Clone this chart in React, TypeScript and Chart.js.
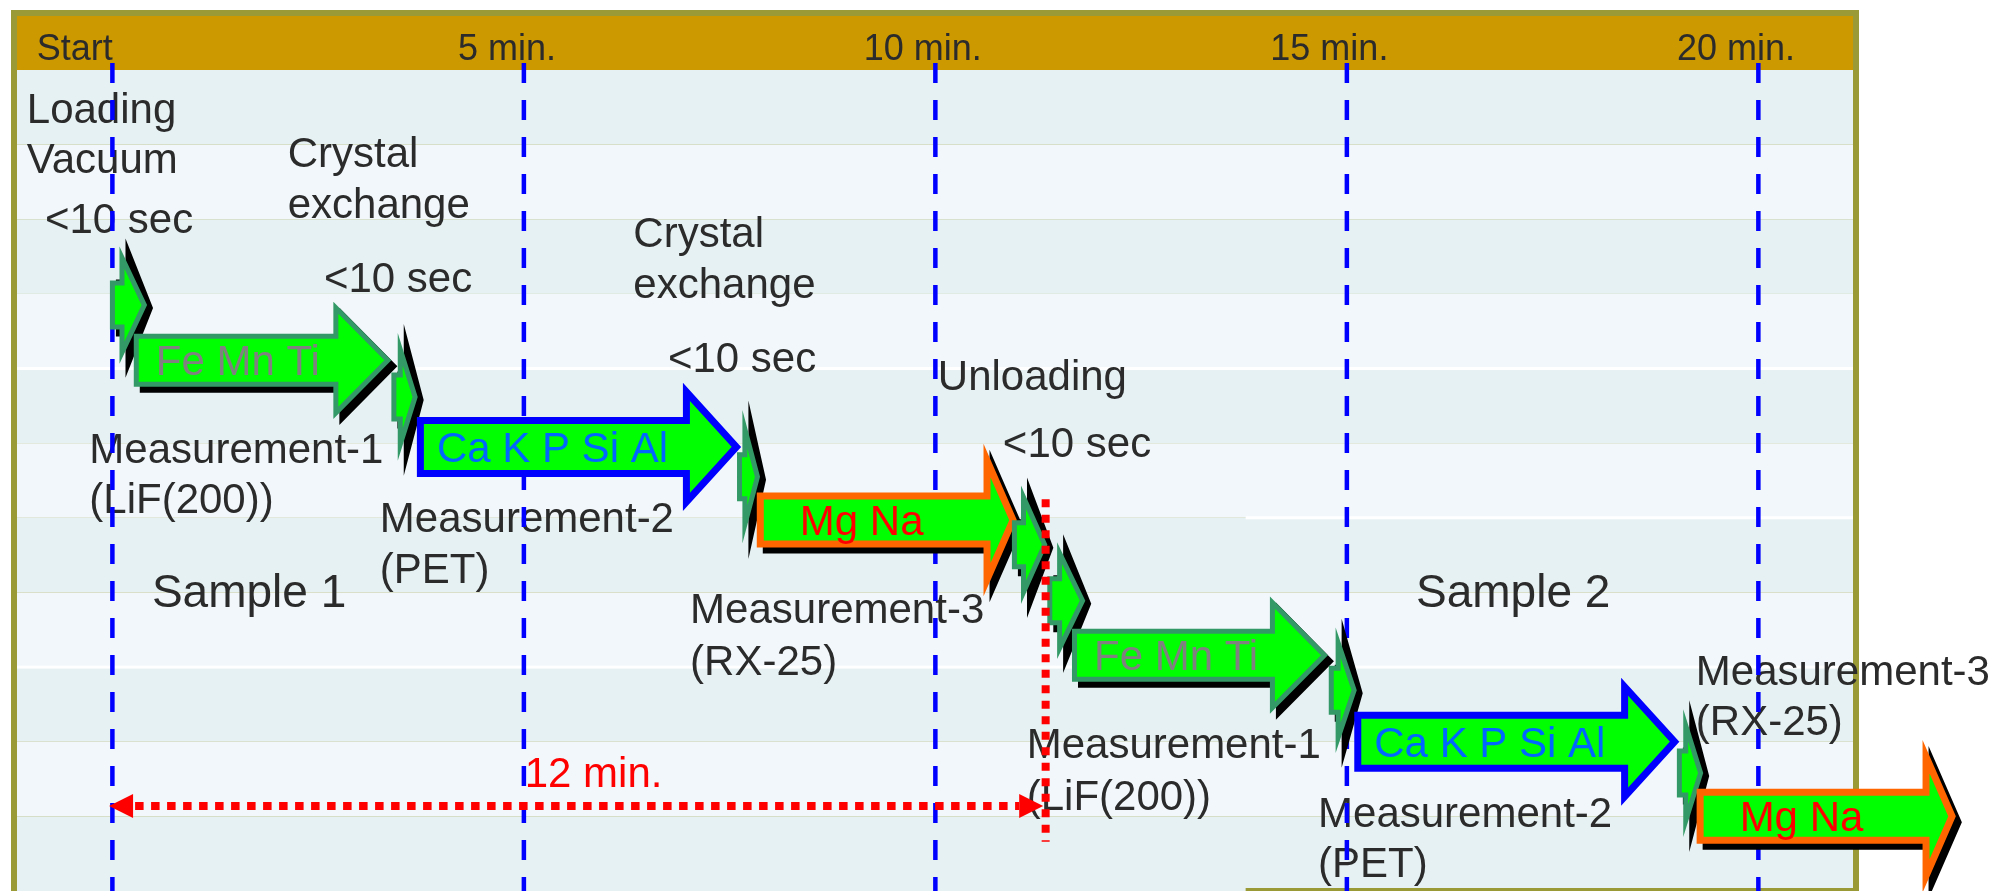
import { useEffect, useRef } from "react";
import { Chart, registerables } from "chart.js";

Chart.register(...registerables);

// x values are minutes on the timeline, y values are rows (one stripe = 1 row, row 0 = bottom of header band)
const markerTimes = [0, 5, 10, 15, 20];
const markerLabels = ["Start", "5 min.", "10 min.", "15 min.", "20 min."];
const markerLabelX = [-0.92, 4.2, 9.13, 14.07, 19.01];
const headerRow = -0.134;

const measureKinds = ["FeMnTi", "CaKPSiAl", "MgNa", "FeMnTi", "CaKPSiAl", "MgNa"];
const measureTexts = ["Fe Mn Ti", "Ca K P Si Al", "Mg Na", "Fe Mn Ti", "Ca K P Si Al", "Mg Na"];
const measureStart = [0.26, 3.7, 7.83, 11.66, 15.09, 19.25];
const measureEnd = [3.39, 7.64, 10.99, 14.77, 19.04, 22.4];
const measureRow = [3.89, 5.05, 6.03, 7.84, 9.0, 10.0];

const stepStart = [-0.03, 3.39, 7.59, 10.93, 11.36, 14.78, 19.01];
const stepEnd = [0.42, 3.71, 7.87, 11.36, 11.82, 15.12, 19.33];
const stepRow = [3.15, 4.38, 5.45, 6.36, 7.11, 8.31, 9.42];

const noteTexts = [
  "Loading", "Vacuum", "<10 sec",
  "Crystal", "exchange", "<10 sec",
  "Crystal", "exchange", "<10 sec",
  "Unloading", "<10 sec",
  "Measurement-1", "(LiF(200))",
  "Measurement-2", "(PET)",
  "Measurement-3", "(RX-25)",
  "Measurement-1", "(LiF(200))",
  "Measurement-2", "(PET)",
  "Measurement-3", "(RX-25)",
];
const noteX = [
  -1.04, -1.04, -0.82,
  2.13, 2.13, 2.57,
  6.33, 6.33, 6.75,
  10.03, 10.82,
  -0.28, -0.28,
  3.25, 3.25,
  7.02, 7.02,
  11.11, 11.11,
  14.65, 14.65,
  19.24, 19.24,
];
const noteRow = [
  0.71, 1.38, 2.18,
  1.3, 1.98, 2.97,
  2.37, 3.05, 4.05,
  4.29, 5.19,
  5.27, 5.94,
  6.19, 6.87,
  7.41, 8.11,
  9.22, 9.92,
  10.14, 10.81,
  8.24, 8.91,
];

const sampleTexts = ["Sample 1", "Sample 2"];
const sampleX = [0.48, 15.84];
const sampleRow = [7.2, 7.2];

const spanStart = -0.04;
const spanEnd = 11.31;
const spanRow = 9.86;
const spanLabel = "12 min.";
const spanLabelX = 5.01;
const spanLabelRow = 9.61;

const dividerTime = 11.34;
const dividerFrom = 5.75;
const dividerTo = 10.34;

// ---- styles / layout constants ----
const FONT = '"Liberation Sans", Arial, Helvetica, sans-serif';
const TEXT = "#2b2b2b";
const FRAME = "#9a9a36";
const GOLD = "#cc9900";
const STRIPE_DARK = "#e6f1f3";
const STRIPE_LIGHT = "#f1f7fa";
const GREEN = "#00ff00";
const X_MIN = -1.159;
const X_MAX = 21.15;
const Y_MIN = -0.7235;
const Y_MAX = 11;
const ROWS = 11;
const PANEL_LEFT = 13.77;

const STYLES: Record<string, any> = {
  FeMnTi: { stroke: "#339966", lw: 5, shadow: true, text: "#808080", bh: 24, hh: 52.5, hl: 52, dx: 22 },
  CaKPSiAl: { stroke: "#0000ff", lw: 7, shadow: false, text: "#0066ff", bh: 26.5, hh: 55, hl: 50, dx: 20 },
  MgNa: { stroke: "#ff6600", lw: 7, shadow: true, text: "#ff0000", bh: 24, hh: 59.5, hl: 26, dx: 43 },
};

function arrowPath(ctx: CanvasRenderingContext2D, xl: number, tip: number, yc: number, bh: number, hh: number, hl: number) {
  const base = tip - hl;
  ctx.beginPath();
  ctx.moveTo(xl, yc - bh);
  ctx.lineTo(base, yc - bh);
  ctx.lineTo(base, yc - hh);
  ctx.lineTo(tip, yc);
  ctx.lineTo(base, yc + hh);
  ctx.lineTo(base, yc + bh);
  ctx.lineTo(xl, yc + bh);
  ctx.closePath();
}

const timelinePlugin = {
  id: "timeline",
  beforeDraw(chart: any) {
    const { ctx, chartArea: ca, scales } = chart;
    const Y = (v: number) => scales.y.getPixelForValue(v);
    const X = (v: number) => scales.x.getPixelForValue(v);
    ctx.save();
    ctx.fillStyle = "#ffffff";
    ctx.fillRect(0, 0, chart.width, chart.height);
    ctx.fillStyle = FRAME;
    ctx.fillRect(ca.left - 6, ca.top - 6, ca.right - ca.left + 12, ca.bottom - ca.top + 6);
    ctx.fillStyle = GOLD;
    ctx.fillRect(ca.left, ca.top, ca.right - ca.left, Y(0) - ca.top);
    for (let r = 0; r < ROWS; r++) {
      ctx.fillStyle = r % 2 === 0 ? STRIPE_DARK : STRIPE_LIGHT;
      ctx.fillRect(ca.left, Y(r), ca.right - ca.left, Y(r + 1) - Y(r));
    }
    ctx.fillStyle = "#ffffff";
    ctx.fillRect(ca.left, Y(4) - 1.5, ca.right - ca.left, 3);
    ctx.fillRect(ca.left, Y(8) - 1.5, ca.right - ca.left, 3);
    ctx.fillRect(X(PANEL_LEFT), Y(6) - 1.5, ca.right - X(PANEL_LEFT), 3);
    ctx.fillStyle = FRAME;
    ctx.fillRect(X(PANEL_LEFT), ca.bottom - 3, ca.right + 6 - X(PANEL_LEFT), 3);
    ctx.restore();
  },
  afterDraw(chart: any) {
    const { ctx, chartArea: ca, scales } = chart;
    const X = (v: number) => scales.x.getPixelForValue(v);
    const Y = (v: number) => scales.y.getPixelForValue(v);
    ctx.save();
    ctx.textBaseline = "alphabetic";
    ctx.textAlign = "left";

    // header labels
    ctx.fillStyle = TEXT;
    ctx.font = `36px ${FONT}`;
    markerLabels.forEach((t, i) => ctx.fillText(t, X(markerLabelX[i]), Y(headerRow)));

    // notes
    ctx.font = `42px ${FONT}`;
    noteTexts.forEach((t, i) => ctx.fillText(t, X(noteX[i]), Y(noteRow[i])));
    ctx.font = `46px ${FONT}`;
    sampleTexts.forEach((t, i) => ctx.fillText(t, X(sampleX[i]), Y(sampleRow[i])));

    // dashed time markers
    ctx.strokeStyle = "#0000ff";
    ctx.lineWidth = 4.5;
    ctx.setLineDash([20, 17]);
    markerTimes.forEach((t) => {
      ctx.beginPath();
      ctx.moveTo(X(t), Y(0) - 7);
      ctx.lineTo(X(t), ca.bottom);
      ctx.stroke();
    });
    ctx.setLineDash([]);

    // arrows in time order
    type Item = { s: number; e: number; r: number; kind: string; text: string };
    const items: Item[] = [];
    stepStart.forEach((s, i) => items.push({ s, e: stepEnd[i], r: stepRow[i], kind: "step", text: "" }));
    measureStart.forEach((s, i) =>
      items.push({ s, e: measureEnd[i], r: measureRow[i], kind: measureKinds[i], text: measureTexts[i] })
    );
    items.sort((a, b) => a.s - b.s);
    ctx.lineJoin = "miter";
    ctx.miterLimit = 10;
    items.forEach((it) => {
      const yc = Y(it.r);
      if (it.kind === "step") {
        const lw = 5;
        const bh = 22;
        const hh = 47.5;
        const xl = X(it.s) + lw / 2;
        const tip = X(it.e) - 2.6;
        const hl = 0.7 * (tip - xl);
        ctx.lineWidth = lw;
        ctx.fillStyle = "#000000";
        ctx.strokeStyle = "#000000";
        arrowPath(ctx, xl + 6, tip + 6, yc + 3, bh + 4, hh + 9, hl);
        ctx.fill();
        ctx.stroke();
        ctx.fillStyle = GREEN;
        ctx.strokeStyle = "#339966";
        arrowPath(ctx, xl, tip, yc, bh, hh, hl);
        ctx.fill();
        ctx.stroke();
        return;
      }
      const st = STYLES[it.kind];
      const ext = st.lw / 2 / Math.sin(Math.atan2(st.hh, st.hl));
      const xl = X(it.s) + st.lw / 2;
      const tip = X(it.e) - ext;
      ctx.lineWidth = st.lw;
      if (st.shadow) {
        ctx.fillStyle = "#000000";
        ctx.strokeStyle = "#000000";
        arrowPath(ctx, xl + 6, tip + 6, yc + 6, st.bh, st.hh, st.hl);
        ctx.fill();
        ctx.stroke();
      }
      ctx.fillStyle = GREEN;
      ctx.strokeStyle = st.stroke;
      arrowPath(ctx, xl, tip, yc, st.bh, st.hh, st.hl);
      ctx.fill();
      ctx.stroke();
      ctx.fillStyle = st.text;
      ctx.font = `42px ${FONT}`;
      ctx.fillText(it.text, X(it.s) + st.dx, yc + 15);
    });

    // red span (12 min.)
    const red = "#ff0000";
    const sy = Y(spanRow);
    const x0 = X(spanStart);
    const x1 = X(spanEnd);
    ctx.strokeStyle = red;
    ctx.fillStyle = red;
    ctx.lineWidth = 8;
    ctx.lineCap = "butt";
    ctx.setLineDash([8.5, 7.5]);
    ctx.beginPath();
    ctx.moveTo(x0 + 26, sy);
    ctx.lineTo(x1 - 24, sy);
    ctx.stroke();
    ctx.setLineDash([]);
    ctx.beginPath();
    ctx.moveTo(x0, sy);
    ctx.lineTo(x0 + 24, sy - 12);
    ctx.lineTo(x0 + 24, sy + 12);
    ctx.closePath();
    ctx.fill();
    ctx.beginPath();
    ctx.moveTo(x1, sy);
    ctx.lineTo(x1 - 24, sy - 12);
    ctx.lineTo(x1 - 24, sy + 12);
    ctx.closePath();
    ctx.fill();

    // red divider
    ctx.setLineDash([8, 7.5]);
    ctx.beginPath();
    ctx.moveTo(X(dividerTime), Y(dividerFrom));
    ctx.lineTo(X(dividerTime), Y(dividerTo));
    ctx.stroke();
    ctx.setLineDash([]);

    ctx.font = `42px ${FONT}`;
    ctx.fillText(spanLabel, X(spanLabelX), Y(spanLabelRow));
    ctx.restore();
  },
};

export default function App() {
  const ref = useRef<HTMLCanvasElement>(null);
  useEffect(() => {
    if (!ref.current) return;
    const chart = new Chart(ref.current, {
      type: "scatter",
      data: {
        datasets: [
          {
            label: "measurements",
            data: measureEnd.map((x, i) => ({ x, y: measureRow[i] })),
            pointRadius: 0,
            showLine: false,
          },
        ],
      },
      options: {
        animation: false,
        responsive: false,
        devicePixelRatio: 1,
        layout: { padding: { left: 17, right: 144, top: 16, bottom: 0 } },
        plugins: { legend: { display: false }, tooltip: { enabled: false } },
        events: [],
        scales: {
          x: { type: "linear", min: X_MIN, max: X_MAX, display: false },
          y: { type: "linear", min: Y_MIN, max: Y_MAX, reverse: true, display: false },
        },
      },
      plugins: [timelinePlugin],
    });
    return () => chart.destroy();
  }, []);
  return (
    <div style={{ position: "absolute", left: 0, top: 0, width: 1997, height: 891, overflow: "hidden" }}>
      <canvas ref={ref} width={1997} height={891} style={{ display: "block" }} />
    </div>
  );
}
